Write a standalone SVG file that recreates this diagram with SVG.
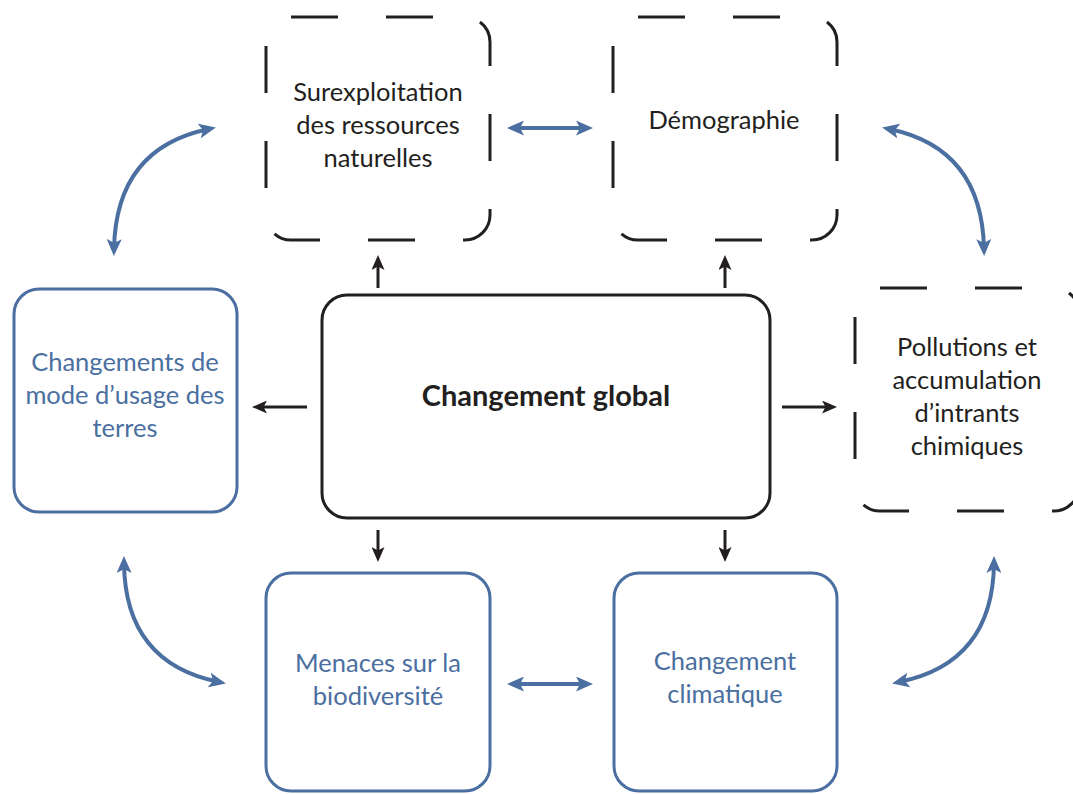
<svg xmlns="http://www.w3.org/2000/svg" width="1073" height="794" viewBox="0 0 1073 794">
<style>
.dash{fill:none;stroke:#231f20;stroke-width:3;stroke-dasharray:47 48}
.solid{fill:none;stroke:#231f20;stroke-width:3}
.blue{fill:none;stroke:#4a6fa0;stroke-width:3}
.t{font-family:Lato,"Liberation Sans",sans-serif;font-size:25.5px;text-anchor:middle;fill:#231f20}
.tb{fill:#4a6fa0}
.big{font-weight:bold;font-size:29px}
.ba{fill:none;stroke:#231f20;stroke-width:3;marker-end:url(#ka)}
.ca{fill:none;stroke:#4a6fa0;stroke-width:4;marker-start:url(#ba);marker-end:url(#ba)}
</style>
<defs>
<marker id="ka" markerUnits="userSpaceOnUse" markerWidth="15" markerHeight="13" refX="9" refY="6.5" orient="auto-start-reverse"><path d="M0,0 L15,6.5 L0,13 L3.5,6.5 Z" fill="#231f20"/></marker>
<marker id="ba" markerUnits="userSpaceOnUse" markerWidth="17" markerHeight="15" refX="10" refY="7.5" orient="auto-start-reverse"><path d="M0,0 L17,7.5 L0,15 L4,7.5 Z" fill="#4a6fa0"/></marker>
</defs>
<g id="n-surexploitation">
<rect class="dash" x="266" y="17" width="224" height="223" rx="25"/>
<text class="t" x="378" y="101">Surexploitation</text>
<text class="t" x="378" y="134">des ressources</text>
<text class="t" x="378" y="167">naturelles</text>
</g>
<g id="n-demographie">
<rect class="dash" x="613" y="17" width="224" height="223" rx="25"/>
<text class="t" x="724" y="129">Démographie</text>
</g>
<g id="n-pollutions">
<rect class="dash" x="855" y="288" width="224" height="223" rx="25"/>
<text class="t" x="967" y="356">Pollutions et</text>
<text class="t" x="967" y="389">accumulation</text>
<text class="t" x="967" y="422">d’intrants</text>
<text class="t" x="967" y="455">chimiques</text>
</g>
<g id="n-global">
<rect class="solid" x="322" y="295" width="448" height="223" rx="25"/>
<text class="t big" x="546" y="406">Changement global</text>
</g>
<g id="n-usage">
<rect class="blue" x="14" y="289" width="223" height="223" rx="25"/>
<text class="t tb" x="125" y="371">Changements de</text>
<text class="t tb" x="125" y="404">mode d’usage des</text>
<text class="t tb" x="125" y="437">terres</text>
</g>
<g id="n-biodiversite">
<rect class="blue" x="266" y="573" width="224" height="218" rx="25"/>
<text class="t tb" x="378" y="672">Menaces sur la</text>
<text class="t tb" x="378" y="705">biodiversité</text>
</g>
<g id="n-climat">
<rect class="blue" x="614" y="573" width="223" height="218" rx="25"/>
<text class="t tb" x="725" y="670">Changement</text>
<text class="t tb" x="725" y="703">climatique</text>
</g>
<g id="connectors">
<path class="ba" d="M378,288 L378,261"/>
<path class="ba" d="M725,288 L725,261"/>
<path class="ba" d="M307,407 L258,407"/>
<path class="ba" d="M782,407 L831,407"/>
<path class="ba" d="M378,530 L378,556"/>
<path class="ba" d="M725,530 L725,556"/>
<path class="ca" d="M514,128 L586,128"/>
<path class="ca" d="M514,684 L586,684"/>
<path class="ca" d="M209,129 Q116,148 114,249"/>
<path class="ca" d="M889,129 Q982,148 984,249"/>
<path class="ca" d="M219,682 Q125,663 124,563"/>
<path class="ca" d="M899,682 Q993,663 994,563"/>
</g>
</svg>
